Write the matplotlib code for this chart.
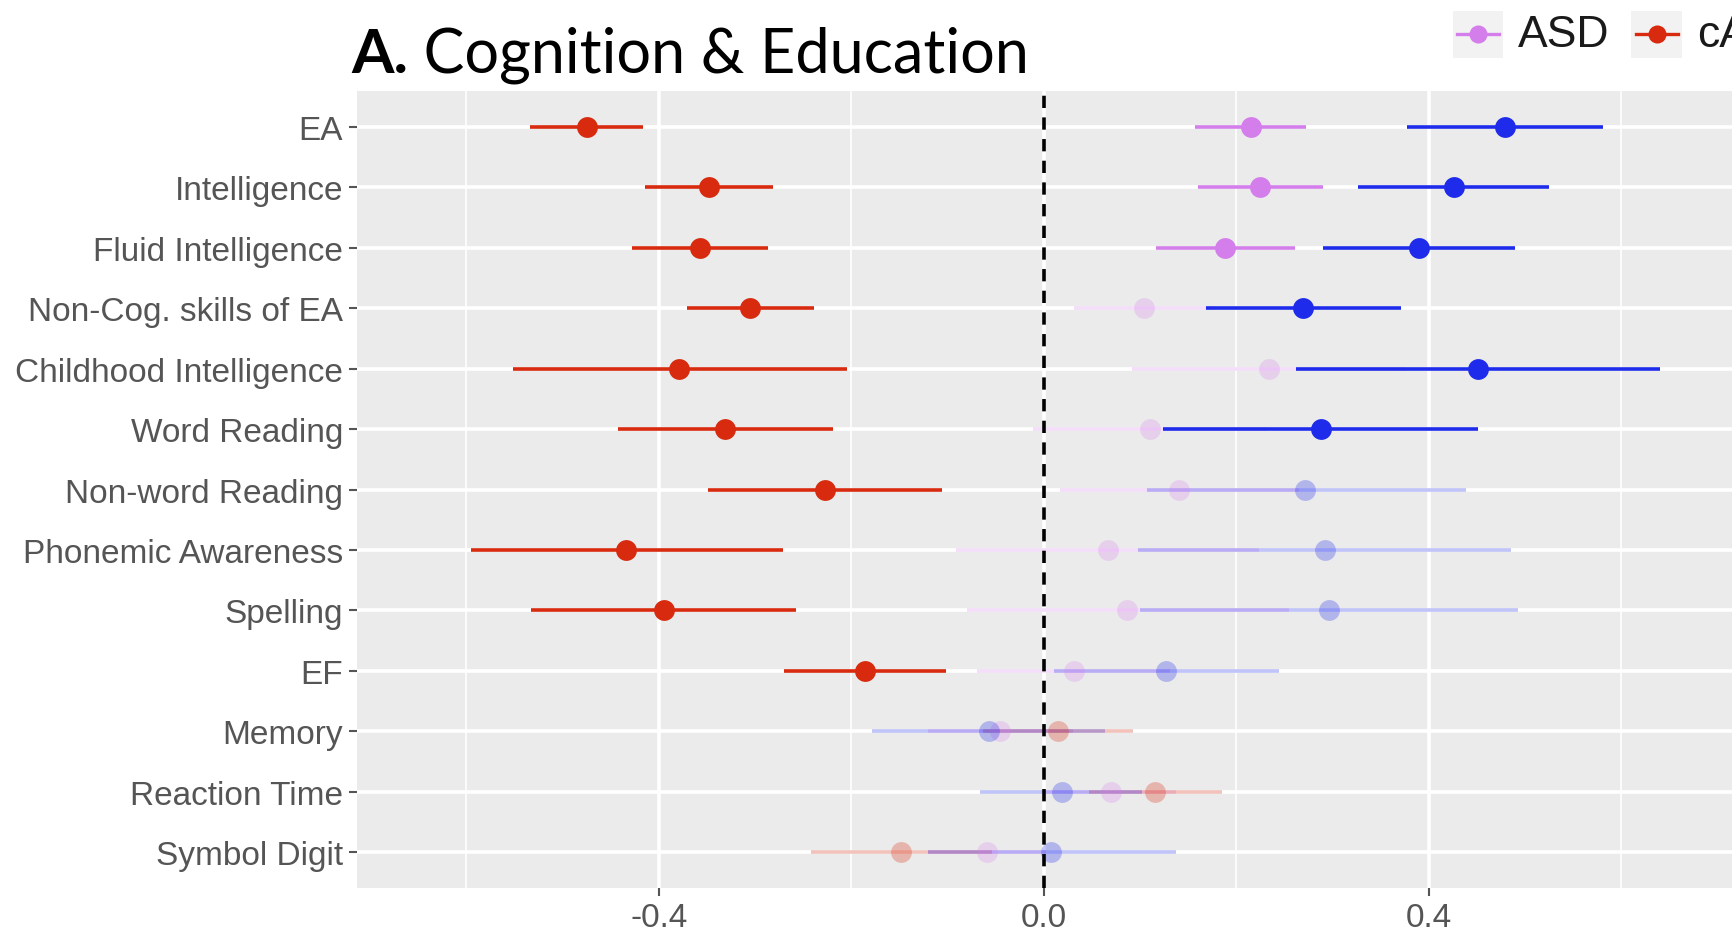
import matplotlib
matplotlib.use("Agg")
import matplotlib.pyplot as plt
from matplotlib.lines import Line2D
from matplotlib.patches import Rectangle
import numpy as np

categories = ["EA", "Intelligence", "Fluid Intelligence", "Non-Cog. skills of EA",
              "Childhood Intelligence", "Word Reading", "Non-word Reading",
              "Phonemic Awareness", "Spelling", "EF", "Memory", "Reaction Time",
              "Symbol Digit"]

# ASD
asd_est = [0.215, 0.225, 0.188, 0.104, 0.234, 0.110, 0.141, 0.067, 0.087, 0.031, -0.045, 0.070, -0.059]
asd_lo  = [0.157, 0.160, 0.117, 0.031, 0.092, -0.011, 0.017, -0.091, -0.080, -0.069, -0.120, 0.002, -0.120]
asd_hi  = [0.273, 0.290, 0.261, 0.178, 0.377, 0.232, 0.265, 0.224, 0.255, 0.131, 0.030, 0.138, 0.002]
asd_sig = [True, True, True, False, False, False, False, False, False, False, False, False, False]

# cADHD
cad_est = [-0.475, -0.348, -0.357, -0.305, -0.379, -0.331, -0.227, -0.434, -0.395, -0.186, 0.015, 0.116, -0.148]
cad_lo  = [-0.534, -0.414, -0.428, -0.371, -0.552, -0.442, -0.349, -0.595, -0.533, -0.270, -0.063, 0.047, -0.242]
cad_hi  = [-0.417, -0.281, -0.287, -0.239, -0.204, -0.219, -0.106, -0.271, -0.257, -0.102, 0.093, 0.185, -0.054]
cad_sig = [True] * 10 + [False] * 3

# third series (legend entry cut off at the right edge)
th_est = [0.479, 0.426, 0.390, 0.270, 0.451, 0.288, 0.272, 0.292, 0.296, 0.127, -0.057, 0.019, 0.008]
th_lo  = [0.378, 0.327, 0.290, 0.169, 0.262, 0.124, 0.107, 0.098, 0.100, 0.011, -0.178, -0.066, -0.120]
th_hi  = [0.581, 0.525, 0.490, 0.371, 0.641, 0.451, 0.439, 0.486, 0.493, 0.245, 0.064, 0.102, 0.137]
th_sig = [True] * 6 + [False] * 7

series = [
    ("ASD", asd_est, asd_lo, asd_hi, asd_sig, "#D47EEC", 0.25),
    ("cADHD", cad_est, cad_lo, cad_hi, cad_sig, "#D72A0E", 0.28),
    ("aADHD", th_est, th_lo, th_hi, th_sig, "#1F2BEA", 0.28),
]

xticks = [-0.4, 0.0, 0.4]
xticklabels = ["-0.4", "0.0", "0.4"]

W, H = 1568.0, 848.0  # reference layout units
fig = plt.figure(figsize=(17.32, 9.37), dpi=100)
ax_left = 323 / W
ax_bottom = 1 - 805 / H
ax_top = 1 - 83 / H
xmin, xmax = -0.714, 0.74
ax_width = (xmax - xmin) * (871 / W)
ax = fig.add_axes([ax_left, ax_bottom, ax_width, ax_top - ax_bottom])
ax.set_facecolor("#EBEBEB")
for s in ax.spines.values():
    s.set_visible(False)

n = len(categories)
ypos = np.arange(n)
ax.set_ylim(n - 1 + 0.6, -0.6)
ax.set_xlim(xmin, xmax)

ax.set_xticks(xticks)
ax.set_xticklabels(xticklabels)
ax.set_xticks([-0.6, -0.2, 0.2, 0.6], minor=True)
ax.set_yticks(ypos)
ax.set_yticklabels(categories)
ax.tick_params(axis="both", which="major", colors="#555555", labelsize=24,
               length=6, width=1.5, pad=4)
ax.tick_params(axis="x", which="minor", length=0)
for lab in ax.get_xticklabels() + ax.get_yticklabels():
    lab.set_fontfamily("Liberation Sans")
    lab.set_color("#555555")
ax.grid(True, which="major", color="white", linewidth=2.6)
ax.grid(True, which="minor", axis="x", color="white", linewidth=1.2)
ax.set_axisbelow(True)

for name, est, lo, hi, sig, col, fa in series:
    for i in range(n):
        a = 1.0 if sig[i] else fa
        ax.plot([lo[i], hi[i]], [ypos[i], ypos[i]], color=col, lw=2.6, alpha=a,
                solid_capstyle="butt", zorder=3)
        ax.plot([est[i]], [ypos[i]], "o", color=col, ms=15, mec="none", alpha=a, zorder=4)

ax.axvline(0, color="black", lw=2.6, ls=(0, (3.4, 2.6)), zorder=5)

# title
r = fig.canvas.get_renderer()
tx, ty = 318 / W, 1 - 66 / H
t1 = fig.text(tx, ty, "A.", fontsize=44, fontweight="bold", family="Lato", va="baseline")
bb = t1.get_window_extent(r)
fig.text(bb.x1 / fig.bbox.width, ty, " Cognition & Education", fontsize=44,
         family="Lato", va="baseline")

# legend (manual, partly off-canvas as in the reference)
key_w, key_h = 46 / W, 42 / H
key_y = 1 - 53 / H
starts = [1315 / W, 1477 / W, 1680 / W]
for (name, est, lo, hi, sig, col, fa), x0 in zip(series, starts):
    fig.patches.append(Rectangle((x0, key_y), key_w, key_h, transform=fig.transFigure,
                                 facecolor="#F2F2F2", edgecolor="none"))
    yc = key_y + key_h / 2
    fig.lines.append(Line2D([x0 + 4 / W, x0 + key_w - 4 / W], [yc, yc], transform=fig.transFigure,
                            color=col, lw=2.4))
    fig.lines.append(Line2D([x0 + key_w / 2], [yc], transform=fig.transFigure, marker="o",
                            ms=13, color=col, mec="none"))
    fig.text(x0 + key_w + 13 / W, yc, name, fontsize=32, family="Liberation Sans",
             va="center", ha="left", color="#1a1a1a")

fig.savefig("out.png", dpi=100)
